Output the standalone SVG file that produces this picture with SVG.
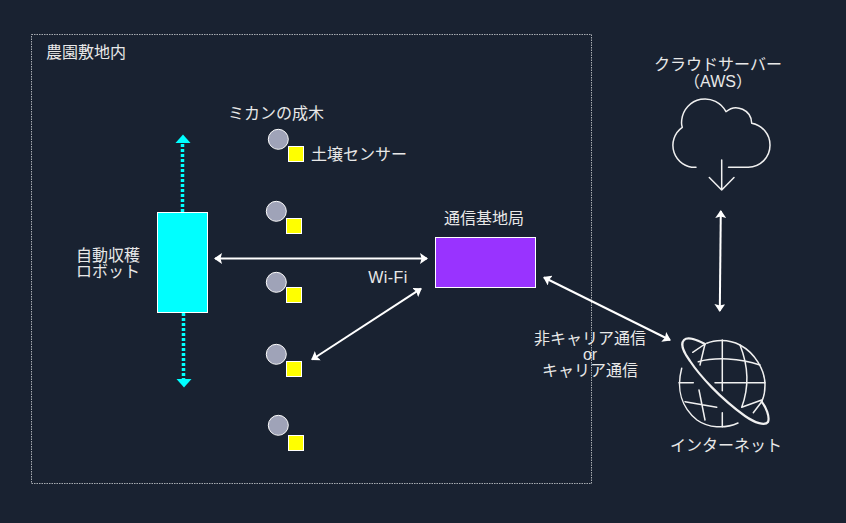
<svg xmlns="http://www.w3.org/2000/svg" width="846" height="523" viewBox="0 0 846 523">
<defs>
<style>
text{font-family:"Liberation Sans","Noto Sans CJK JP",sans-serif;font-size:16px;fill:#e8e8e8;text-anchor:middle}
.tree circle{fill:#9fa3b8;stroke:#fff;stroke-width:1}
.tree rect{fill:#ff0;stroke:#fff;stroke-width:1}
.w{stroke:#fff;stroke-width:2;fill:none}
.c{stroke:#0ff;stroke-width:3.500;fill:none;stroke-dasharray:3 2}
.ic{stroke:#f0f0f0;stroke-width:1.500;fill:none;stroke-linecap:round;stroke-linejoin:round}
</style>
<marker id="wa" viewBox="0 0 8 11" refX="7" refY="5.500" markerWidth="8" markerHeight="11" markerUnits="userSpaceOnUse" orient="auto-start-reverse"><path d="M0 0L8 5.500L0 11L1.500 5.500Z" fill="#fff"/></marker>
</defs>
<rect width="846" height="523" fill="#192231"/>
<g id="farm"><rect x="31.500" y="34.500" width="560" height="449" fill="none" stroke="#a8acb2" stroke-width="1" stroke-dasharray="1.500 1"/><text x="86" y="58">農園敷地内</text></g>
<g id="connectors">
<path class="c" d="M182.500 212V143"/><path d="M183 134.500L190.500 143H175.500Z" fill="#0ff"/>
<path class="c" d="M183.500 313V380"/><path d="M184 387.500L191.500 379H176.500Z" fill="#0ff"/>
<path class="w" d="M215 258.500H427" marker-start="url(#wa)" marker-end="url(#wa)"/>
<path class="w" d="M312 359.500L421 288.700" marker-start="url(#wa)" marker-end="url(#wa)"/>
<path class="w" d="M544 277.500L670 340" marker-start="url(#wa)" marker-end="url(#wa)"/>
<path class="w" d="M720.800 211L719.800 311" marker-start="url(#wa)" marker-end="url(#wa)"/>
</g>
<g id="robot"><rect x="157.500" y="212.500" width="50" height="100" fill="#0ff" stroke="#fff"/><text x="108" y="261">自動収穫</text><text x="108" y="277">ロボット</text></g>
<g id="tree-label"><text x="276" y="119">ミカンの成木</text></g>
<g id="tree1" class="tree"><circle cx="278.300" cy="139.300" r="10"/><rect x="288.500" y="146.500" width="15" height="15"/><text x="359" y="160">土壌センサー</text></g>
<g id="tree2" class="tree"><circle cx="276.300" cy="211.300" r="10"/><rect x="286.500" y="218.500" width="15" height="15"/></g>
<g id="tree3" class="tree"><circle cx="276.300" cy="282.300" r="10"/><rect x="286.500" y="287.500" width="15" height="15"/></g>
<g id="tree4" class="tree"><circle cx="276.300" cy="354.300" r="10"/><rect x="286.500" y="361.500" width="15" height="15"/></g>
<g id="tree5" class="tree"><circle cx="278.300" cy="425.300" r="10"/><rect x="288.500" y="435.500" width="15" height="15"/></g>
<g id="wifi-label"><text x="388" y="283" letter-spacing="0.400">Wi-Fi</text></g>
<g id="base"><rect x="435.500" y="237.500" width="100" height="50" fill="#9933ff" stroke="#fff"/><text x="484" y="224">通信基地局</text></g>
<g id="carrier-label"><text x="590" y="344">非キャリア通信</text><text x="590" y="360">or</text><text x="590" y="376">キャリア通信</text></g>
<g id="cloud"><text x="718" y="70">クラウドサーバー</text><text x="718" y="87">（AWS）</text>
<path class="ic" d="M696 167.300A22 22 0 0 1 682.300 127.300C681 124 681.700 122 681.700 120A23.500 23.500 0 0 1 726 111.700A15.500 15.500 0 0 1 751.700 123.300A22 22 0 0 1 770 145A22 22 0 0 1 748.300 167.300H728.500"/>
<path class="ic" d="M721.700 160V190M709.300 177.500L721.700 190L734 177.500"/></g>
<g id="internet"><text x="726" y="451">インターネット</text>
<path class="ic" d="M681.700 368.300C676 390 682 408 697 420C708 428 725 429 738 423"/>
<path class="ic" d="M706.700 343.300C714 340 728 338.500 740 345C755 353 765 370 765 385C765 390 764 397 761.700 401.700"/>
<path class="ic" d="M722.300 340V390.700M722.300 412.700V426.700M679 382.700H693.300M715 382.700H765"/>
<path class="ic" d="M698.300 361.700C715 357 740 358 760 365M705 344L700 365M692.700 352.300L705 344M740 345C748 365 750 385 741.700 407.300M741.700 407.300L761.700 400M753.300 412.700L761.700 401.700M699 390L705 420M685 401.700L716.700 407.300"/>
<path d="M705 344C697 340 688 336 684 340C680 344 684 353 690 361C700 376 720 398 745 416C755 423 765 426 768 422C770 417 766 407 761.700 401.700" fill="none" stroke="#f0f0f0" stroke-width="2.200" stroke-linecap="round"/></g>
</svg>
